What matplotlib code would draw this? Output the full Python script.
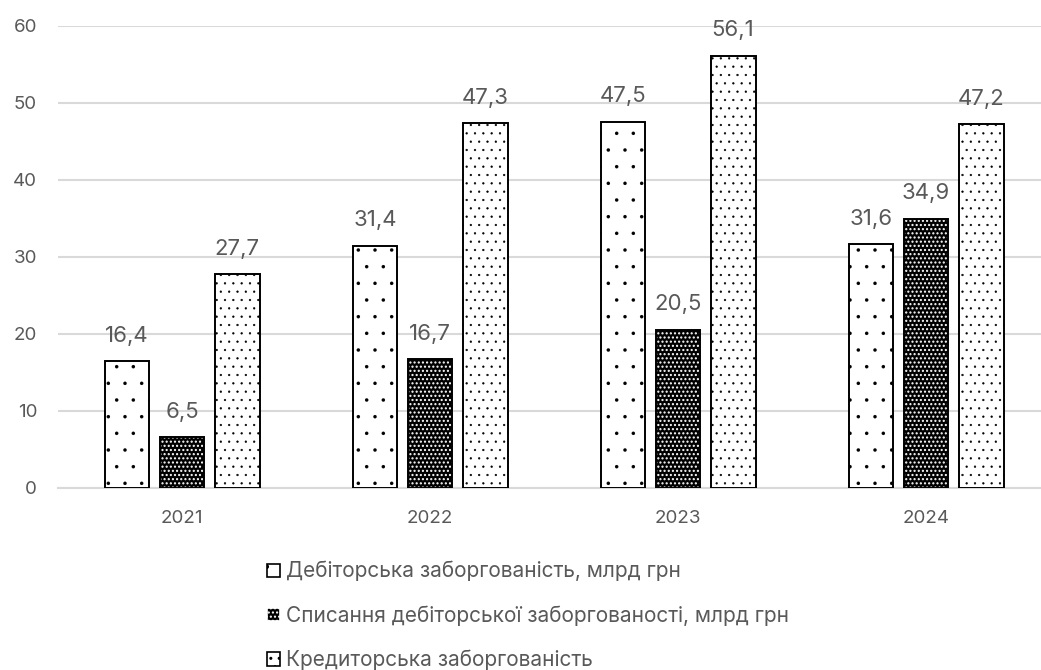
import numpy as np
import matplotlib.pyplot as plt
from matplotlib.patches import Patch

plt.rcParams['font.family'] = ['Inter', 'DejaVu Sans']

years = ["2021", "2022", "2023", "2024"]
receivables = [16.4, 31.4, 47.5, 31.6]
written_off = [6.5, 16.7, 20.5, 34.9]
payables = [27.7, 47.3, 56.1, 47.2]

series_names = ["Дебіторська заборгованість, млрд грн",
                "Списання дебіторської заборгованості, млрд грн",
                "Кредиторська заборгованість"]

text_color = "#595959"
grid_color = "#d9d9d9"

fig = plt.figure(figsize=(10.41, 6.70), dpi=100)
ax = fig.add_axes([58/1041, 1 - 487.5/670, (1050 - 58)/1041, (487.5 - 25.5)/670])

x = np.arange(len(years))
w = 0.181
step = 0.222


def fmt(v):
    return f"{v:.1f}".replace(".", ",")


def label_bars(bars, vals):
    for b, v in zip(bars, vals):
        ax.annotate(fmt(v), (b.get_x() + b.get_width() / 2, v),
                    xytext=(0, 11), textcoords="offset points",
                    ha="center", va="bottom", fontsize=16, color=text_color)


# series 1: white with sparse small dots
b1 = ax.bar(x - step, receivables, w, facecolor="white", edgecolor="black",
            hatch=".", linewidth=1.4, zorder=3)
# series 2: dark fill with a fine white dot grid, black outline on top
ax.bar(x, written_off, w, facecolor="black", edgecolor="white",
       hatch="....", linewidth=0, zorder=3)
b2 = ax.bar(x, written_off, w, fill=False, edgecolor="black",
            linewidth=1.4, zorder=4)
# series 3: white with denser dots
b3 = ax.bar(x + step, payables, w, facecolor="white", edgecolor="black",
            hatch="..", linewidth=1.4, zorder=3)

for p in b1:
    p.set_hatch_linewidth(0.1)
for p in b3:
    p.set_hatch_linewidth(0.4)

label_bars(b1, receivables)
label_bars(b2, written_off)
label_bars(b3, payables)

ax.set_xlim(-0.5, 3.5)
ax.set_ylim(0, 60)
ax.set_yticks(np.arange(0, 61, 10))
ax.set_xticks(x)
ax.set_xticklabels(years)
ax.yaxis.grid(True, color=grid_color, linewidth=1.5, zorder=0)
ax.set_axisbelow(True)
for s in ["top", "right", "left"]:
    ax.spines[s].set_visible(False)
ax.spines["bottom"].set_color(grid_color)
ax.spines["bottom"].set_linewidth(1.5)
ax.tick_params(axis="both", length=0, labelsize=13.5, labelcolor=text_color)
ax.tick_params(axis="x", pad=16)
ax.tick_params(axis="y", pad=15)

handles = [
    Patch(facecolor="white", edgecolor="black", hatch=".", linewidth=1.2),
    Patch(facecolor="black", edgecolor="white", hatch="....", linewidth=1.2),
    Patch(facecolor="white", edgecolor="black", hatch="..", linewidth=1.2),
]
leg = fig.legend(handles, series_names, loc="upper left",
                 bbox_to_anchor=(267/1041, 1 - 561/670), frameon=False,
                 fontsize=15, handlelength=0.6, handleheight=0.6,
                 handletextpad=0.3, labelspacing=1.15, borderpad=0,
                 borderaxespad=0)
for t in leg.get_texts():
    t.set_color(text_color)

fig.savefig("out.png", dpi=100)
